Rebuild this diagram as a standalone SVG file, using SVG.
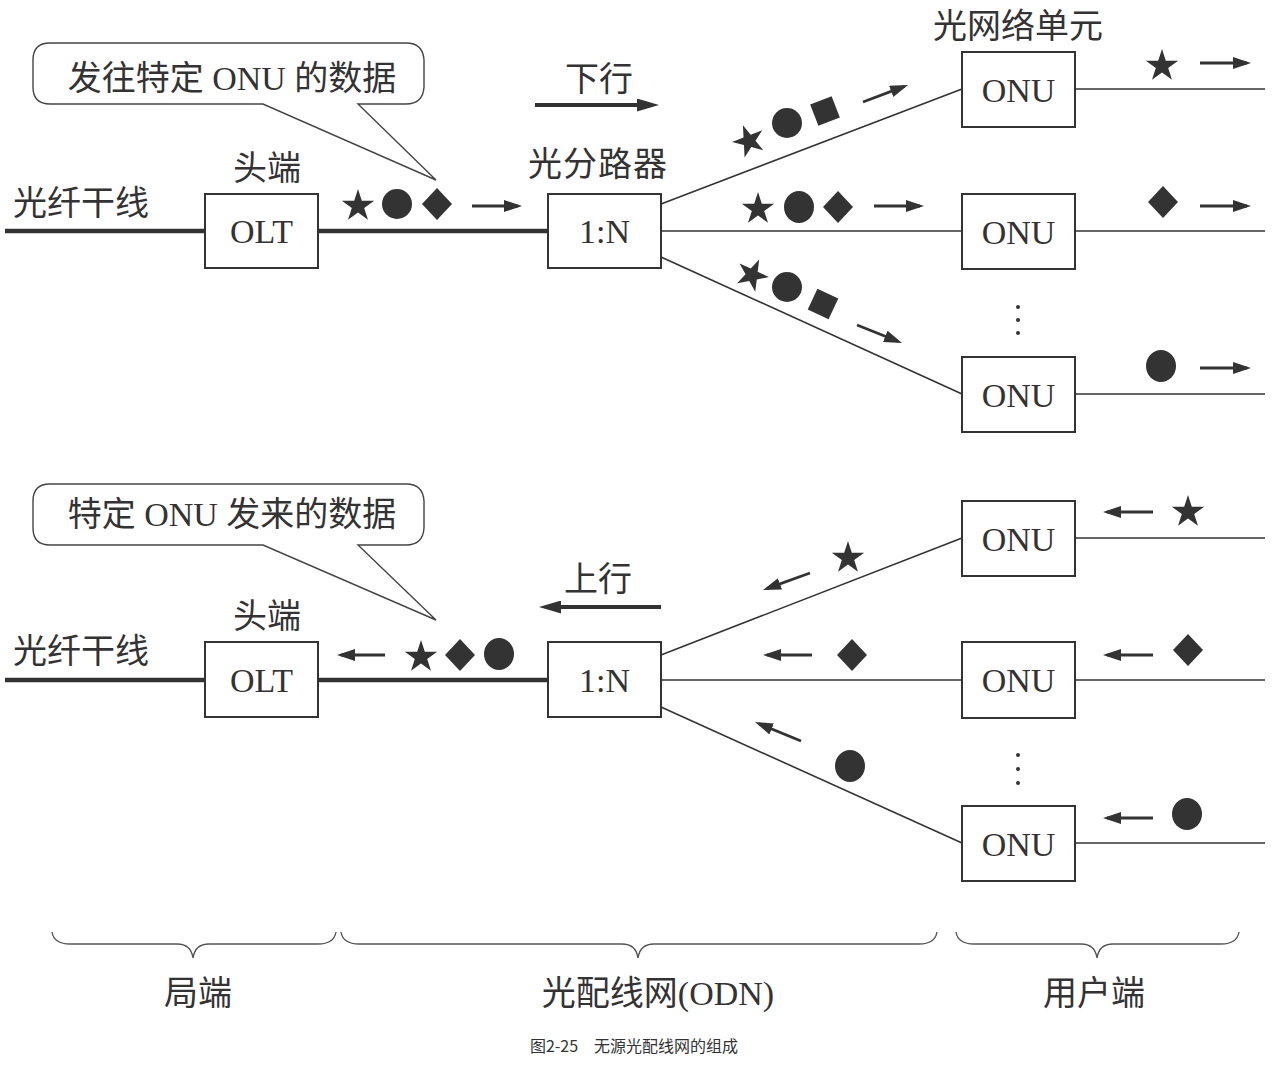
<svg xmlns="http://www.w3.org/2000/svg" xmlns:xlink="http://www.w3.org/1999/xlink" width="1285" height="1071" viewBox="0 0 1285 1071">
<style>
.t{font-family:"Liberation Serif","Noto Sans CJK SC",serif;fill:#333;font-size:34px;text-anchor:middle}
.box{fill:#fff;stroke:#333;stroke-width:2}
.trunk{stroke:#333;stroke-width:4.5;fill:none}
.fib{stroke:#333;stroke-width:1.6;fill:none}
.arr{stroke:#333;stroke-width:2.8;fill:none;marker-end:url(#ah)}
.big{stroke:#333;stroke-width:4;fill:none;marker-end:url(#bh)}
.sym{fill:#333}
.bub{fill:#fff;stroke:#444;stroke-width:1.4}
.brace{fill:none;stroke:#555;stroke-width:1.4}
.cap{font-family:"Noto Sans CJK SC","Liberation Sans",sans-serif;font-size:16px;fill:#333;text-anchor:middle}
</style>
<defs>
<marker id="ah" viewBox="0 0 18 12" markerWidth="18" markerHeight="12" refX="14" refY="6" orient="auto" markerUnits="userSpaceOnUse"><path d="M0,0 L18,6 L0,12 Z" fill="#333"/></marker>
<marker id="bh" viewBox="0 0 22 13" markerWidth="22" markerHeight="13" refX="15" refY="6.5" orient="auto" markerUnits="userSpaceOnUse"><path d="M0,0 L22,6.5 L0,13 Z" fill="#333"/></marker>
<path id="star" d="M0,-17 L3.82,-5.26 L16.17,-5.25 L6.18,2.01 L9.99,13.75 L0,6.5 L-9.99,13.75 L-6.18,2.01 L-16.17,-5.25 L-3.82,-5.26 Z"/>
<path id="dia" d="M0,-16 L15,0 L0,16 L-15,0 Z"/>
<rect id="sq" x="-11.5" y="-11.5" width="23" height="23"/>
</defs>

<g id="connectors">
<line class="trunk" x1="5" y1="231" x2="205" y2="231"/>
<line class="trunk" x1="318" y1="231" x2="548" y2="231"/>
<line class="fib" x1="661" y1="204" x2="962" y2="89"/>
<line class="fib" x1="661" y1="231" x2="962" y2="231"/>
<line class="fib" x1="661" y1="257" x2="962" y2="394"/>
<line class="fib" x1="1075" y1="89" x2="1265" y2="89"/>
<line class="fib" x1="1075" y1="231" x2="1265" y2="231"/>
<line class="fib" x1="1075" y1="394" x2="1265" y2="394"/>

<line class="trunk" x1="5" y1="680" x2="205" y2="680"/>
<line class="trunk" x1="318" y1="680" x2="548" y2="680"/>
<line class="fib" x1="661" y1="655" x2="962" y2="538"/>
<line class="fib" x1="661" y1="680" x2="962" y2="680"/>
<line class="fib" x1="661" y1="707" x2="962" y2="843"/>
<line class="fib" x1="1075" y1="538" x2="1265" y2="538"/>
<line class="fib" x1="1075" y1="680" x2="1265" y2="680"/>
<line class="fib" x1="1075" y1="843" x2="1265" y2="843"/>
</g>

<g id="bubble-down">
<path class="bub" d="M50,43 H406 Q423,43 424,60 V87 Q423,104 406,104 H358 L436,180 L263,104 H50 Q33,104 33,87 V60 Q33,43 50,43 Z"/>
<text class="t" x="232" y="90">发往特定 ONU 的数据</text>
</g>

<g id="olt-top">
<rect class="box" x="205" y="194" width="113" height="74"/>
<text class="t" x="261.5" y="243">OLT</text>
<text class="t" x="267" y="180">头端</text>
</g>
<text class="t" x="81" y="215">光纤干线</text>

<g id="splitter-top">
<rect class="box" x="548" y="194" width="113" height="74"/>
<text class="t" x="604.5" y="243">1:N</text>
<text class="t" x="598" y="176" letter-spacing="1">光分路器</text>
</g>

<g id="dir-down">
<text class="t" x="599" y="91">下行</text>
<line class="big" x1="535" y1="105" x2="652" y2="105"/>
</g>

<g id="onu-top-1">
<rect class="box" x="962" y="52" width="113" height="75"/>
<text class="t" x="1018.5" y="102">ONU</text>
</g>
<text class="t" x="1018" y="38">光网络单元</text>
<g id="onu-top-2">
<rect class="box" x="962" y="194" width="113" height="75"/>
<text class="t" x="1018.5" y="244">ONU</text>
</g>
<g id="onu-top-3">
<rect class="box" x="962" y="357" width="113" height="75"/>
<text class="t" x="1018.5" y="407">ONU</text>
</g>

<g id="data-top" class="sym">
<use xlink:href="#star" x="358" y="206"/>
<circle cx="397" cy="204" r="15"/>
<use xlink:href="#dia" x="437" y="204"/>
<line class="arr" x1="472" y1="206" x2="518" y2="206"/>

<use xlink:href="#star" transform="translate(749,141) rotate(-21)"/>
<circle cx="787" cy="123" r="15"/>
<use xlink:href="#sq" transform="translate(825,111) rotate(-21)"/>
<line class="arr" x1="863" y1="102" x2="904.3" y2="86.4"/>

<use xlink:href="#star" x="758" y="209"/>
<ellipse cx="799" cy="207" rx="15" ry="16"/>
<use xlink:href="#dia" x="838" y="207"/>
<line class="arr" x1="874" y1="206" x2="920" y2="206"/>

<use xlink:href="#star" transform="translate(752,275) rotate(25)"/>
<circle cx="787" cy="287" r="15"/>
<use xlink:href="#sq" transform="translate(823,304) rotate(25)"/>
<line class="arr" x1="857" y1="325" x2="898.3" y2="341.5"/>

<use xlink:href="#star" x="1162" y="66"/>
<line class="arr" x1="1200" y1="63" x2="1247" y2="63"/>
<use xlink:href="#dia" x="1163" y="202"/>
<line class="arr" x1="1200" y1="206" x2="1247" y2="206"/>
<ellipse cx="1161" cy="366" rx="15" ry="16"/>
<line class="arr" x1="1200" y1="368" x2="1247" y2="368"/>

<circle cx="1018" cy="307" r="2"/>
<circle cx="1018" cy="320" r="2"/>
<circle cx="1018" cy="333" r="2"/>
</g>

<g id="bubble-up">
<path class="bub" d="M50,484 H406 Q423,484 424,501 V528 Q423,545 406,545 H358 L436,620 L263,545 H50 Q33,545 33,528 V501 Q33,484 50,484 Z"/>
<text class="t" x="232" y="526">特定 ONU 发来的数据</text>
</g>

<g id="olt-bottom">
<rect class="box" x="205" y="642" width="113" height="75"/>
<text class="t" x="261.5" y="692">OLT</text>
<text class="t" x="267" y="628">头端</text>
</g>
<text class="t" x="81" y="663">光纤干线</text>

<g id="splitter-bottom">
<rect class="box" x="548" y="642" width="113" height="75"/>
<text class="t" x="604.5" y="692">1:N</text>
</g>

<g id="dir-up">
<text class="t" x="598" y="591">上行</text>
<line class="big" x1="661" y1="607" x2="546" y2="607"/>
</g>

<g id="onu-bottom-1">
<rect class="box" x="962" y="501" width="113" height="75"/>
<text class="t" x="1018.5" y="551">ONU</text>
</g>
<g id="onu-bottom-2">
<rect class="box" x="962" y="642" width="113" height="76"/>
<text class="t" x="1018.5" y="692">ONU</text>
</g>
<g id="onu-bottom-3">
<rect class="box" x="962" y="806" width="113" height="75"/>
<text class="t" x="1018.5" y="856">ONU</text>
</g>

<g id="data-bottom" class="sym">
<line class="arr" x1="385" y1="655" x2="341" y2="655"/>
<use xlink:href="#star" x="421" y="657"/>
<use xlink:href="#dia" x="460" y="655"/>
<ellipse cx="499" cy="654" rx="15" ry="16"/>

<line class="arr" x1="810" y1="573" x2="766.8" y2="588.6"/>
<use xlink:href="#star" x="848" y="558"/>
<line class="arr" x1="812" y1="655" x2="767" y2="655"/>
<use xlink:href="#dia" x="852" y="655"/>
<line class="arr" x1="801" y1="741" x2="758.7" y2="723.6"/>
<ellipse cx="850" cy="766" rx="15" ry="16"/>

<line class="arr" x1="1153" y1="512" x2="1107" y2="512"/>
<use xlink:href="#star" x="1188" y="512"/>
<line class="arr" x1="1153" y1="655" x2="1107" y2="655"/>
<use xlink:href="#dia" x="1188" y="650"/>
<line class="arr" x1="1153" y1="818" x2="1107" y2="818"/>
<ellipse cx="1187" cy="814" rx="15" ry="16"/>

<circle cx="1018" cy="755" r="2"/>
<circle cx="1018" cy="769" r="2"/>
<circle cx="1018" cy="783" r="2"/>
</g>

<g id="braces">
<path class="brace" d="M52,932 Q54,944 70,944 H177 Q191,944 193,958 Q195,944 209,944 H318 Q334,944 336,932"/>
<path class="brace" d="M341,932 Q343,944 359,944 H622 Q636,944 638,958 Q640,944 654,944 H919 Q935,944 937,932"/>
<path class="brace" d="M956,932 Q958,944 974,944 H1081 Q1095,944 1097,958 Q1099,944 1113,944 H1221 Q1237,944 1239,932"/>
</g>
<text class="t" x="198" y="1005">局端</text>
<text class="t" x="658" y="1005">光配线网(ODN)</text>
<text class="t" x="1094" y="1005">用户端</text>

<text class="cap" x="634" y="1052">图2-25　无源光配线网的组成</text>
</svg>
